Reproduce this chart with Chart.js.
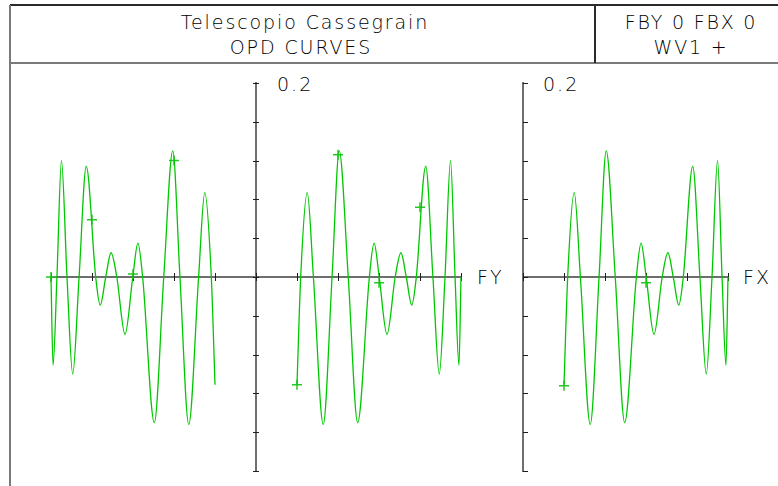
<!DOCTYPE html>
<html><head><meta charset="utf-8">
<script src="https://cdn.jsdelivr.net/npm/chart.js@4.4.1/dist/chart.umd.min.js"></script>
<style>
html,body{margin:0;padding:0;background:#fff;}
#page{position:relative;width:778px;height:486px;overflow:hidden;background:#fff;font-family:"DejaVu Sans",sans-serif;}
.ln{position:absolute;}
.tx{position:absolute;white-space:nowrap;color:#000;font-size:19px;line-height:19px;font-weight:300;text-align:center;}
.lb{position:absolute;white-space:nowrap;color:#000;font-size:19px;line-height:19px;font-weight:300;}
canvas{position:absolute;}
</style></head><body>
<div id="page">
  <div class="ln" style="left:10px;top:4px;width:768px;height:2px;background:#2a2a2a"></div>
  <div class="ln" style="left:9px;top:5px;width:2px;height:481px;background:#7a7a7a"></div>
  <div class="ln" style="left:10px;top:62px;width:768px;height:2px;background:#7a7a7a"></div>
  <div class="ln" style="left:594px;top:5px;width:2px;height:58px;background:#2a2a2a"></div>

  <div class="tx" style="left:105px;top:13px;width:400px;letter-spacing:1.9px">Telescopio Cassegrain</div>
  <div class="tx" style="left:101px;top:38px;width:400px;letter-spacing:1.9px">OPD CURVES</div>
  <div class="tx" style="left:591px;top:13px;width:200px;letter-spacing:1.8px">FBY 0 FBX 0</div>
  <div class="tx" style="left:591px;top:38px;width:200px;letter-spacing:1.8px">WV1 +</div>

  <div class="lb" style="left:277px;top:75px;letter-spacing:2px">0.2</div>
  <div class="lb" style="left:477px;top:268px;letter-spacing:2px">FY</div>
  <div class="lb" style="left:543px;top:75px;letter-spacing:2px">0.2</div>
  <div class="lb" style="left:743px;top:268px;letter-spacing:2px">FX</div>

  <canvas id="cFY" width="430" height="408" style="left:41px;top:73px;width:430px;height:408px"></canvas>
  <canvas id="cFX" width="225" height="408" style="left:513px;top:73px;width:225px;height:408px"></canvas>
</div>
<script>
// ---- data (pupil coordinate, OPD in waves) ----
const fyLeftPupil = [-1.000,-0.990,-0.971,-0.949,-0.922,-0.894,-0.863,-0.828,-0.782,-0.760,-0.733,-0.707,-0.679,-0.639,-0.601,-0.576,-0.553,-0.496,-0.450,-0.406,-0.371,-0.328,-0.280,-0.250,-0.218,-0.200];
const fyLeftOpd   = [0.000,-0.091,0.000,0.120,0.000,-0.100,0.000,0.114,0.000,-0.029,0.000,0.025,0.000,-0.059,0.000,0.035,0.000,-0.150,0.000,0.130,0.000,-0.152,0.000,0.087,0.000,-0.111];
const fyRightPupil = [0.200,0.218,0.250,0.280,0.328,0.371,0.406,0.450,0.496,0.553,0.576,0.601,0.639,0.679,0.707,0.733,0.760,0.782,0.828,0.863,0.894,0.922,0.949,0.971,0.990,1.000];
const fyRightOpd   = [-0.111,0.000,0.087,0.000,-0.152,0.000,0.130,0.000,-0.150,0.000,0.035,0.000,-0.059,0.000,0.025,0.000,-0.029,0.000,0.114,0.000,-0.100,0.000,0.120,0.000,-0.091,0.000];
const fxPupil = [0.200,0.218,0.250,0.280,0.328,0.371,0.406,0.450,0.496,0.553,0.576,0.601,0.639,0.679,0.707,0.733,0.760,0.782,0.828,0.863,0.894,0.922,0.949,0.971,0.990,1.000];
const fxOpd   = [-0.111,0.000,0.087,0.000,-0.152,0.000,0.130,0.000,-0.150,0.000,0.035,0.000,-0.059,0.000,0.025,0.000,-0.029,0.000,0.114,0.000,-0.100,0.000,0.120,0.000,-0.091,0.000];
// wavelength markers (+)
const fyMarkPupil = [-1.0,-0.8,-0.6,-0.4,0.2,0.4,0.6,0.8];
const fyMarkOpd   = [0.000,0.059,0.003,0.120,-0.111,0.126,-0.006,0.072];
const fxMarkPupil = [0.2,0.6];
const fxMarkOpd   = [-0.112,-0.006];
// axes
const fyTicks = [-1,-0.8,-0.6,-0.4,-0.2,0,0.2,0.4,0.6,0.8,1];
const fxTicks = [0,0.2,0.4,0.6,0.8,1];
const opdTicks = [-0.2,-0.16,-0.12,-0.08,-0.04,0,0.04,0.08,0.12,0.16,0.2];
const opdMax = 0.2;

const GREEN = 'rgb(0,200,0)';
const MARK = 'rgb(40,200,40)';

function toXY(xs, ys){ return xs.map((v,i)=>({x:v, y:ys[i]})); }

const tickMarks = {
  id: 'tickMarks',
  beforeDatasetsDraw(chart, args, opts){
    const {ctx} = chart; const xs = chart.scales.x, ys = chart.scales.y;
    ctx.save();
    ctx.strokeStyle = '#1e1e1e'; ctx.lineWidth = 1;
    const ay = ys.getPixelForValue(0);
    ctx.beginPath();
    opts.xTicks.forEach(v=>{
      const px = Math.round(xs.getPixelForValue(v)) + 0.5;
      ctx.moveTo(px, ay-4); ctx.lineTo(px, ay+4);
    });
    const ax = xs.getPixelForValue(0);
    opts.yTicks.forEach(v=>{
      const py = Math.round(ys.getPixelForValue(v)) + 0.5;
      ctx.moveTo(ax+opts.from, py); ctx.lineTo(ax+opts.to, py);
    });
    ctx.stroke();
    ctx.restore();
  }
};

function lineSet(data){
  return {data, borderColor:GREEN, borderWidth:1.3, pointRadius:0, fill:false,
          cubicInterpolationMode:'monotone', clip:8};
}
function markSet(data){
  return {data, showLine:false, pointStyle:'cross', pointRadius:5, pointBorderColor:MARK,
          pointBackgroundColor:MARK, pointBorderWidth:1.5, clip:8};
}

function makeChart(id, datasets, xMin, xMax, xTicks, from, to){
  return new Chart(document.getElementById(id), {
    type:'line',
    data:{datasets},
    options:{
      responsive:false, animation:false, events:[],
      layout:{padding:10},
      plugins:{legend:{display:false}, tooltip:{enabled:false}, title:{display:false},
               tickMarks:{xTicks, yTicks:opdTicks, from, to}},
      scales:{
        x:{type:'linear', min:xMin, max:xMax, position:{y:0},
           ticks:{display:false}, grid:{display:false},
           border:{display:true, color:'#6e6e6e', width:2}},
        y:{type:'linear', min:-opdMax, max:opdMax, position:{x:0},
           ticks:{display:false}, grid:{display:false},
           border:{display:true, color:'#6e6e6e', width:2}}
      }
    },
    plugins:[tickMarks]
  });
}

makeChart('cFY', [
  lineSet(toXY(fyLeftPupil, fyLeftOpd)),
  lineSet(toXY(fyRightPupil, fyRightOpd)),
  markSet(toXY(fyMarkPupil, fyMarkOpd))
], -1, 1, fyTicks, -3, 3);

makeChart('cFX', [
  lineSet(toXY(fxPupil, fxOpd)),
  markSet(toXY(fxMarkPupil, fxMarkOpd))
], 0, 1, fxTicks, 0, 5);
</script>
</body></html>
